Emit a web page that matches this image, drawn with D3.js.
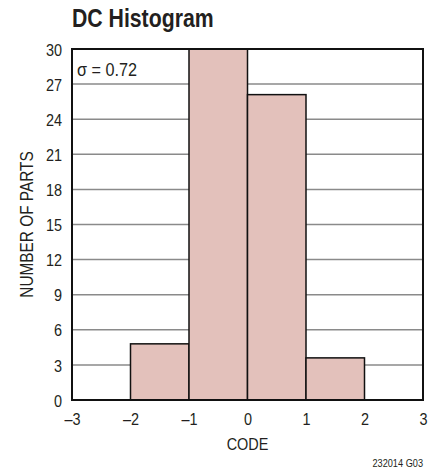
<!DOCTYPE html>
<html><head><meta charset="utf-8">
<script src="https://cdn.jsdelivr.net/npm/d3@7"></script>
<style>
body{margin:0;background:#fff;}
text{font-family:"Liberation Sans",Arial,sans-serif;fill:#231f20;}
</style></head>
<body>
<svg id="chart" width="442" height="472"></svg>
<script>
const binStarts = [-2, -1, 0, 1];
const binEnds = [-1, 0, 1, 2];
const counts = [4.8, 30, 26.1, 3.6];
const xTicks = [-3, -2, -1, 0, 1, 2, 3];
const yTicks = [0, 3, 6, 9, 12, 15, 18, 21, 24, 27, 30];

const svg = d3.select("#chart");
const L = 72, R = 423, T = 49, B = 400;
const x = d3.scaleLinear().domain([-3, 3]).range([L, R]);
const y = d3.scaleLinear().domain([0, 30]).range([B, T]);
const SX = 0.85;

// gridlines
svg.append("g").selectAll("line").data(yTicks.filter(d => d > 0 && d < 30)).join("line")
  .attr("x1", L).attr("x2", R).attr("y1", d => y(d)).attr("y2", d => y(d))
  .attr("stroke", "#8a8a8a").attr("stroke-width", 1.5);

// bars
const bins = binStarts.map((s, i) => ({s, e: binEnds[i], c: counts[i]}));
svg.append("g").selectAll("rect").data(bins).join("rect")
  .attr("x", d => x(d.s)).attr("width", d => x(d.e) - x(d.s))
  .attr("y", d => y(d.c)).attr("height", d => y(0) - y(d.c))
  .attr("fill", "#e3c1bb").attr("stroke", "#111").attr("stroke-width", 1.5);

// frame
svg.append("rect").attr("x", L).attr("y", T).attr("width", R - L).attr("height", B - T)
  .attr("fill", "none").attr("stroke", "#111").attr("stroke-width", 2);

// y axis labels
const yAxis = d3.axisLeft(y).tickValues(yTicks).tickSize(0).tickFormat(d3.format("d"));
const gy = svg.append("g").attr("transform", `translate(${L},0)`).call(yAxis);
gy.select(".domain").remove();
gy.selectAll("text").attr("font-size", 17).attr("font-family", null).attr("fill", "#231f20")
  .attr("x", -10 / SX).attr("dy", "0.36em").attr("transform", `scale(${SX},1)`);

// x axis labels
const xAxis = d3.axisBottom(x).tickValues(xTicks).tickSize(0)
  .tickFormat(d => d < 0 ? "\u2013" + Math.abs(d) : String(d));
const gx = svg.append("g").attr("transform", `translate(0,${B})`).call(xAxis);
gx.select(".domain").remove();
gx.selectAll("text").attr("font-size", 17).attr("font-family", null).attr("fill", "#231f20")
  .attr("y", 25).attr("dy", 0).attr("transform", `scale(${SX},1)`);

function label(tx, ty, size, sx, txt, opts = {}) {
  const t = svg.append("text")
    .attr("transform", `translate(${tx},${ty})${opts.rot ? " rotate(" + opts.rot + ")" : ""} scale(${sx},1)`)
    .attr("font-size", size).text(txt);
  if (opts.anchor) t.attr("text-anchor", opts.anchor);
  if (opts.bold) t.attr("font-weight", "bold");
  return t;
}

label(L, 27, 25, 0.85, "DC Histogram", {bold: true});
label(77, 76, 18, 0.9, "\u03c3 = 0.72");
label((L + R) / 2, 450, 17, 0.85, "CODE", {anchor: "middle"});
label(33, (T + B) / 2, 19, 0.81, "NUMBER OF PARTS", {anchor: "middle", rot: -90});
label(R, 467, 10, 0.92, "232014 G03", {anchor: "end"});
</script>
</body></html>
